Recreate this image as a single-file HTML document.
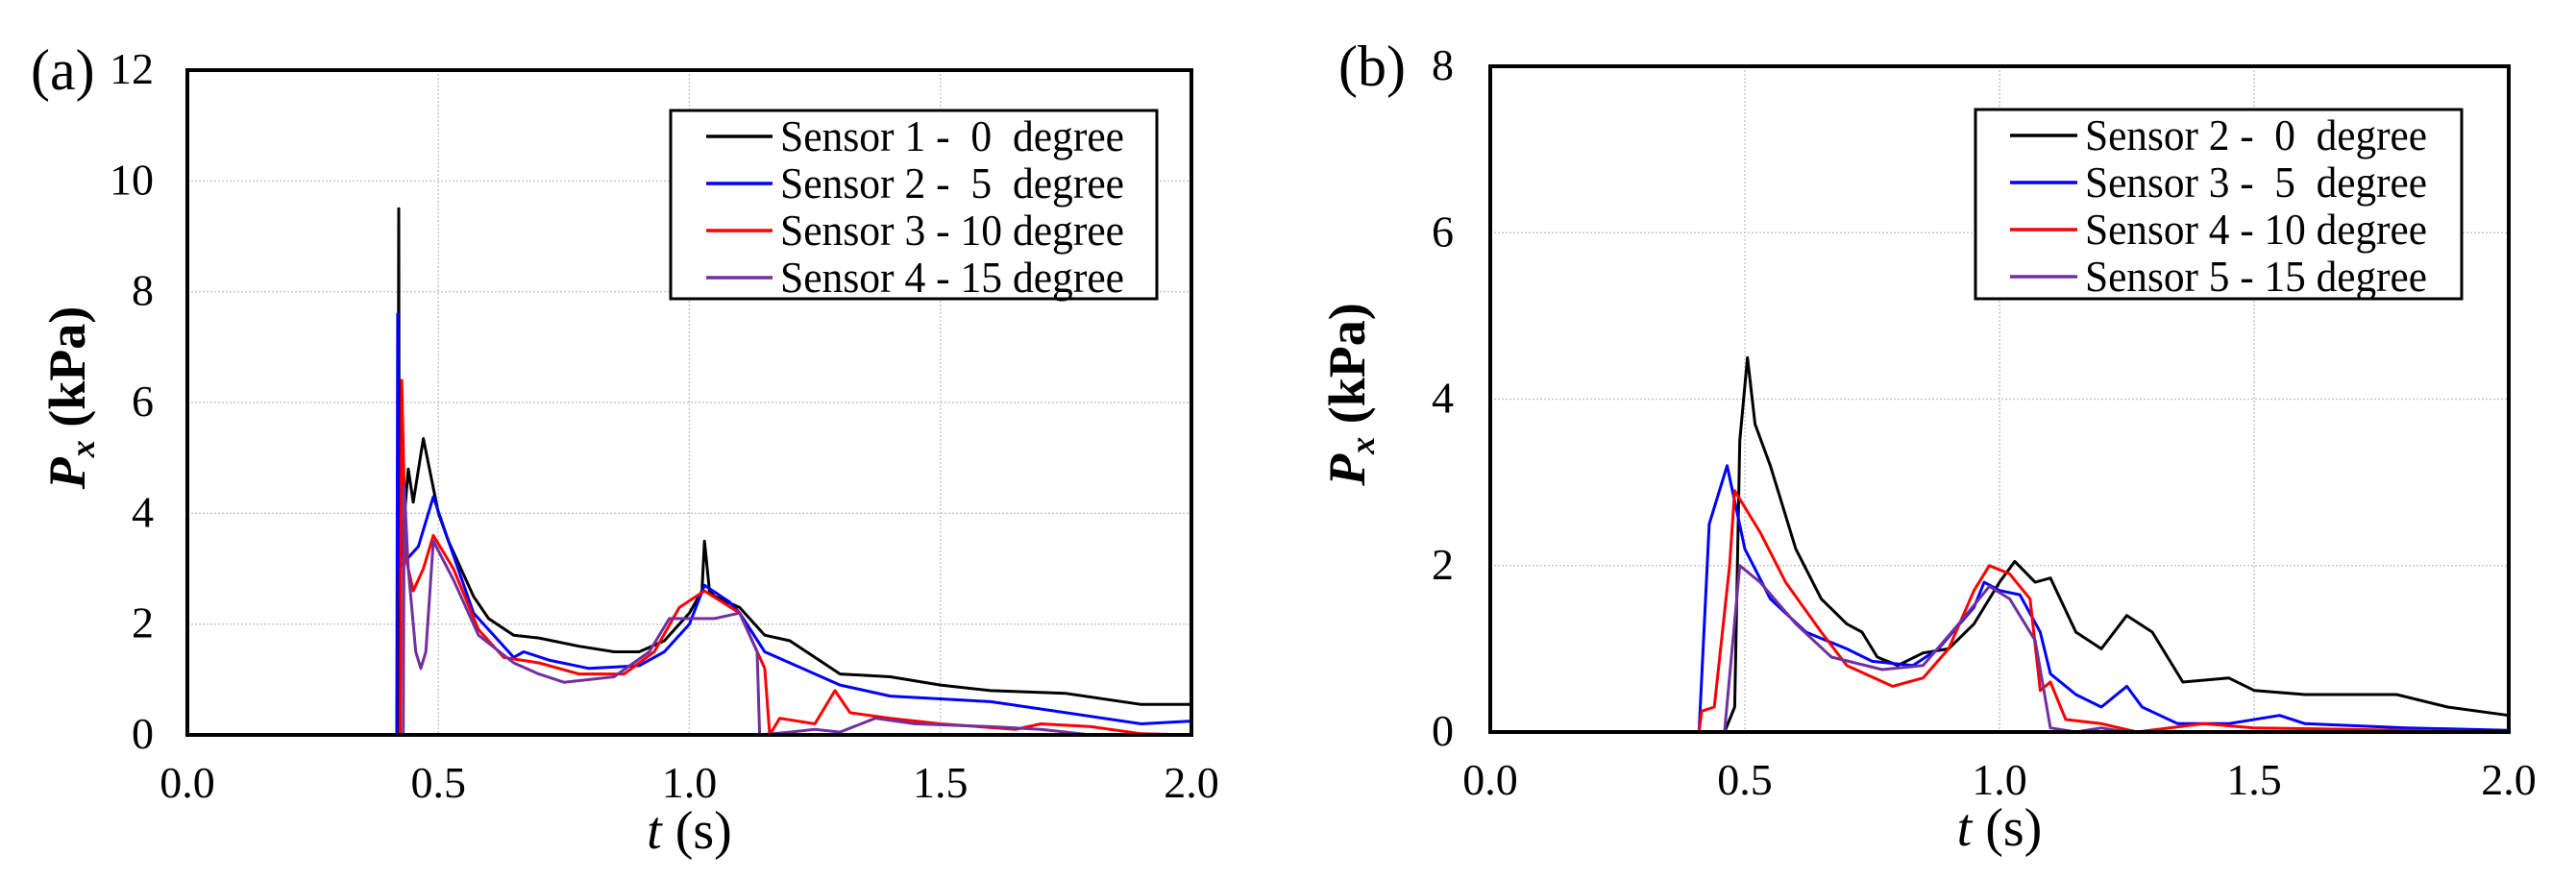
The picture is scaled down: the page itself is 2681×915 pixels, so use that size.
<!DOCTYPE html>
<html><head><meta charset="utf-8"><style>
html,body{margin:0;padding:0;background:#fff;}
svg{display:block;}
svg text{font-family:"Liberation Serif","DejaVu Serif",serif;white-space:pre;}
</style></head><body>
<svg id="fig" width="2681" height="915" viewBox="0 0 2681 915" font-family="Liberation Serif, DejaVu Serif, serif"></svg>
<script>
// ---- Panel (a) data ----
const aS1t=[0,0.419,0.421,0.422,0.424,0.44,0.45,0.47,0.5,0.52,0.57,0.6,0.65,0.7,0.78,0.85,0.9,0.95,1.0,1.025,1.03,1.04,1.05,1.1,1.15,1.2,1.25,1.3,1.4,1.5,1.6,1.75,1.9,2.0];
const aS1v=[0,0,9.5,3.0,3.0,4.8,4.2,5.35,4.0,3.5,2.5,2.1,1.8,1.75,1.6,1.5,1.5,1.7,2.2,2.6,3.5,2.6,2.5,2.3,1.8,1.7,1.4,1.1,1.05,0.9,0.8,0.75,0.55,0.55];
const aS2t=[0,0.417,0.419,0.421,0.44,0.46,0.49,0.52,0.57,0.62,0.65,0.67,0.72,0.8,0.9,0.95,1.0,1.03,1.08,1.1,1.15,1.2,1.3,1.4,1.5,1.6,1.75,1.9,2.0];
const aS2v=[0,0,7.6,3.0,3.2,3.4,4.3,3.5,2.2,1.7,1.4,1.5,1.35,1.2,1.25,1.5,2.0,2.7,2.4,2.2,1.5,1.3,0.9,0.7,0.65,0.6,0.4,0.2,0.25];
const aS3t=[0,0.424,0.427,0.435,0.45,0.47,0.49,0.53,0.58,0.63,0.7,0.78,0.87,0.93,0.98,1.03,1.1,1.15,1.16,1.18,1.25,1.29,1.32,1.4,1.5,1.65,1.7,1.8,1.9,2.0];
const aS3v=[0,0,6.4,3.2,2.6,3.0,3.6,3.0,1.9,1.4,1.3,1.1,1.1,1.5,2.3,2.6,2.2,1.2,0,0.3,0.2,0.8,0.4,0.3,0.2,0.1,0.2,0.15,0.02,0];
const aS4t=[0,0.43,0.432,0.44,0.455,0.465,0.475,0.49,0.53,0.58,0.65,0.7,0.75,0.85,0.92,0.96,1.0,1.05,1.1,1.135,1.14,1.2,1.25,1.3,1.37,1.45,1.6,1.7,1.8,2.0];
const aS4v=[0,0,4.5,3.0,1.5,1.2,1.5,3.5,2.8,1.8,1.3,1.1,0.95,1.05,1.5,2.1,2.1,2.1,2.2,1.5,0,0.05,0.1,0.05,0.3,0.2,0.15,0.1,0,0];
// ---- Panel (b) data ----
const bS2t=[0,0.46,0.48,0.49,0.505,0.52,0.55,0.6,0.65,0.7,0.73,0.76,0.8,0.85,0.9,0.95,1.0,1.03,1.07,1.1,1.15,1.2,1.25,1.3,1.33,1.36,1.45,1.5,1.6,1.7,1.78,1.88,2.0];
const bS2v=[0,0,0.3,3.5,4.5,3.7,3.2,2.2,1.6,1.3,1.2,0.9,0.8,0.95,1.0,1.3,1.8,2.05,1.8,1.85,1.2,1.0,1.4,1.2,0.9,0.6,0.65,0.5,0.45,0.45,0.45,0.3,0.2];
const bS3t=[0,0.41,0.43,0.465,0.5,0.55,0.62,0.7,0.75,0.83,0.88,0.95,0.97,1.0,1.04,1.08,1.1,1.15,1.2,1.25,1.28,1.35,1.45,1.55,1.6,1.8,2.0];
const bS3v=[0,0,2.5,3.2,2.2,1.6,1.2,1.0,0.85,0.8,1.0,1.5,1.8,1.7,1.65,1.2,0.7,0.45,0.3,0.55,0.3,0.1,0.1,0.2,0.1,0.05,0.02];
const bS4t=[0,0.41,0.415,0.44,0.47,0.48,0.53,0.58,0.65,0.7,0.79,0.85,0.9,0.95,0.98,1.02,1.06,1.08,1.1,1.13,1.2,1.27,1.4,1.5,2.0];
const bS4v=[0,0,0.25,0.3,2.0,2.9,2.4,1.8,1.2,0.8,0.55,0.65,1.0,1.7,2.0,1.9,1.6,0.5,0.6,0.15,0.1,0,0.1,0.05,0];
const bS5t=[0,0.46,0.49,0.53,0.6,0.67,0.77,0.85,0.92,0.98,1.02,1.07,1.1,1.15,1.2,1.25,2.0];
const bS5v=[0,0,2.0,1.8,1.3,0.9,0.75,0.8,1.3,1.75,1.6,1.1,0.05,0,0.05,0,0];
const xTicks=["0.0","0.5","1.0","1.5","2.0"];
const aYTicks=["0","2","4","6","8","10","12"];
const bYTicks=["0","2","4","6","8"];
const aLegend=["Sensor 1 -  0  degree","Sensor 2 -  5  degree","Sensor 3 - 10 degree","Sensor 4 - 15 degree"];
const bLegend=["Sensor 2 -  0  degree","Sensor 3 -  5  degree","Sensor 4 - 10 degree","Sensor 5 - 15 degree"];
const colors=["#000000","#0000ff","#ff0000","#7030a0"];

const NS="http://www.w3.org/2000/svg";
const svg=document.getElementById('fig');
const FF='"Liberation Serif","DejaVu Serif",serif';
function mk(tag,attrs,parent){const e=document.createElementNS(NS,tag);for(const k in attrs)e.setAttribute(k,attrs[k]);if(tag==='text')e.style.fontFamily=FF;(parent||svg).appendChild(e);return e;}

function panel(cfg){
  const g=mk('g',{});
  
  
  const {L,R,T,B,ymax}=cfg;
  const xs=t=>L+(t/2)*(R-L);
  const ys=v=>B-(v/ymax)*(B-T);
  xTicks.forEach((lab,i)=>{
    const t=parseFloat(lab);
    if(i>0&&i<xTicks.length-1){const l=mk('line',{x1:xs(t),x2:xs(t),y1:T,y2:B,stroke:'#c8c8c8','stroke-width':1.5,'stroke-dasharray':'2,2'},g);
      }
    const tx=mk('text',{x:xs(t),y:B+65,'text-anchor':'middle','font-size':46},g);
    tx.textContent=lab;
    
    
  });
  cfg.yTicks.forEach((lab,i)=>{
    const v=parseFloat(lab);
    if(i>0&&i<cfg.yTicks.length-1){const l=mk('line',{x1:L,x2:R,y1:ys(v),y2:ys(v),stroke:'#c8c8c8','stroke-width':1.5,'stroke-dasharray':'2,2'},g);
      }
    const tx=mk('text',{x:cfg.yLabX,y:ys(v)+14,'text-anchor':'end','font-size':46},g);
    tx.textContent=lab;
    
    
  });
  cfg.series.forEach((s,i)=>{
    const d=s.t.map((t,j)=>(j?'L':'M')+xs(t).toFixed(1)+','+ys(s.v[j]).toFixed(1)).join('');
    const p=mk('path',{d:d,fill:'none',stroke:colors[i],'stroke-width':3,'stroke-linejoin':'round'},g);
    
    
  });
  const fr=mk('rect',{x:L,y:T,width:R-L,height:B-T,fill:'none',stroke:'#000','stroke-width':4},g);
  
  
  const lg=mk('g',{},g);
  
  
  const lb=cfg.leg;
  mk('rect',{x:lb.x,y:lb.y,width:lb.w,height:lb.h,fill:'#fff',stroke:'#000','stroke-width':3},lg);
  cfg.legend.forEach((lab,i)=>{
    const y=lb.y+27+i*49;
    const ln=mk('line',{x1:lb.lx1,x2:lb.lx2,y1:y,y2:y,stroke:colors[i],'stroke-width':3.5},lg);
    
    
    const tx=mk('text',{x:lb.tx,y:y+15,'font-size':46,textLength:lb.tw,lengthAdjust:'spacingAndGlyphs'},lg);
    tx.textContent=lab;
    
    
  });
  const yt=mk('text',{transform:`translate(${cfg.yTitleX},${(T+B)/2-5}) rotate(-90)`,'text-anchor':'middle','font-size':54,'font-weight':'bold'},g);
  yt.innerHTML='<tspan font-style="italic">P</tspan><tspan font-style="italic" font-size="36" dy="10">x</tspan><tspan dy="-10"> (kPa)</tspan>';
  
  
  const xt=mk('text',{x:(L+R)/2,y:B+118,'text-anchor':'middle','font-size':56},g);
  xt.innerHTML='<tspan font-style="italic">t</tspan> (s)';
  
  
  const pl=mk('text',{x:cfg.pLabX,y:T+20,'font-size':60},g);
  pl.textContent=cfg.pLab;
  
  
}
panel({name:'panel-a',L:195,R:1240,T:73,B:765,ymax:12,yTicks:aYTicks,yLabX:160,yTitleX:88,pLab:'(a)',pLabX:32,
  legend:aLegend,leg:{x:698,y:115,w:506,h:196,lx1:735,lx2:804,tx:812,tw:358},
  series:[{t:aS1t,v:aS1v},{t:aS2t,v:aS2v},{t:aS3t,v:aS3v},{t:aS4t,v:aS4v}]});
panel({name:'panel-b',L:1551,R:2611,T:69,B:762,ymax:8,yTicks:bYTicks,yLabX:1513,yTitleX:1420,pLab:'(b)',pLabX:1393,
  legend:bLegend,leg:{x:2056,y:114,w:506,h:197,lx1:2092,lx2:2162,tx:2170,tw:356},
  series:[{t:bS2t,v:bS2v},{t:bS3t,v:bS3v},{t:bS4t,v:bS4v},{t:bS5t,v:bS5v}]});
</script>
</body></html>
